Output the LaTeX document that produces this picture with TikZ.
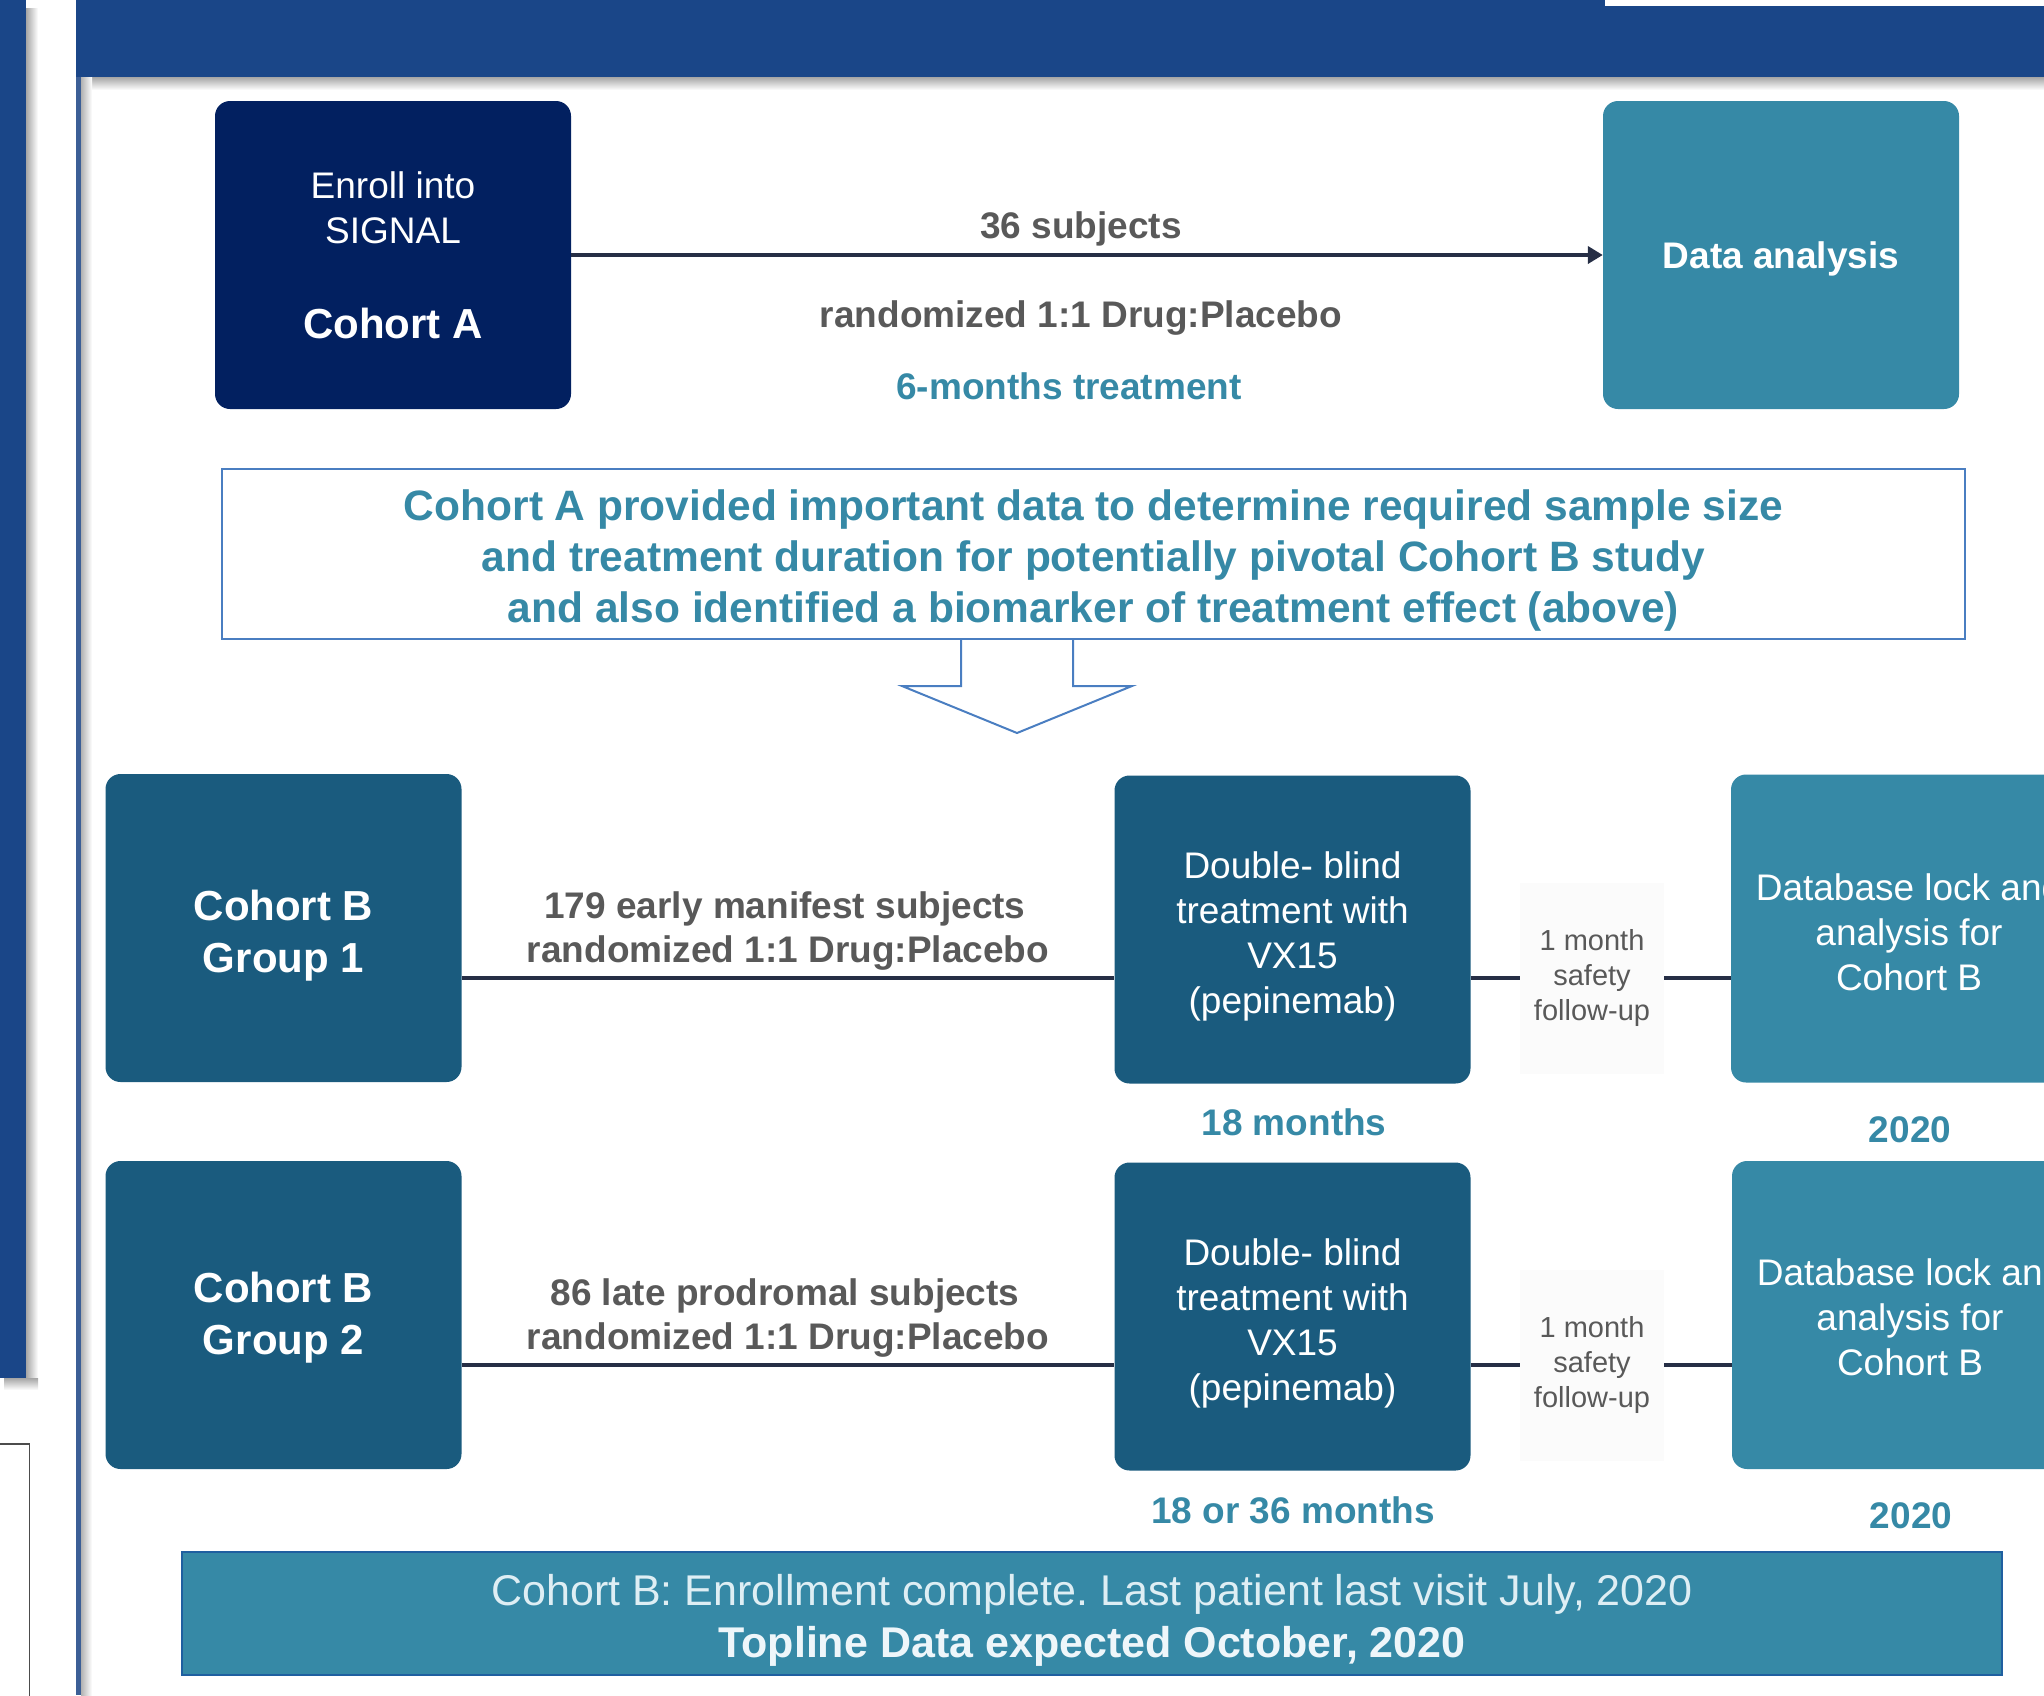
\documentclass[tikz,border=0pt]{standalone}
\usepackage{fontspec}
\setmainfont{Liberation Sans}
\usetikzlibrary{arrows.meta}
\frenchspacing
\definecolor{hdr}{RGB}{26,70,136}
\definecolor{navyc}{RGB}{2,32,96}
\definecolor{tealc}{RGB}{54,137,166}
\definecolor{dteal}{RGB}{26,91,126}
\definecolor{gtext}{RGB}{89,89,89}
\definecolor{lnc}{RGB}{38,46,69}
\definecolor{outl}{RGB}{74,126,193}
\definecolor{vlinec}{RGB}{60,95,150}
\definecolor{banborder}{RGB}{31,95,160}
\definecolor{banlight}{RGB}{222,238,244}
\definecolor{banbold}{RGB}{238,246,250}
\definecolor{fufill}{RGB}{251,251,251}
\newcommand{\upad}[1]{\rule{0pt}{#1}}
\begin{document}
\begin{tikzpicture}[x=1pt,y=-1pt,
  box/.style={rounded corners=15pt, minimum width=356pt, minimum height=308pt, inner sep=0pt, text=white, align=center, font=\fontsize{37}{45}\selectfont},
  lbl/.style={inner sep=0pt, align=center, font=\fontsize{37}{44}\selectfont\bfseries, text=gtext},
  conn/.style={draw=lnc, line width=4.5pt},
  fubox/.style={fill=fufill, minimum width=144pt, minimum height=191pt, inner sep=0pt, align=center, text=gtext, font=\fontsize{29}{35}\selectfont}]
\useasboundingbox (0,0) rectangle (2044,1695);
\clip (0,0) rectangle (2044,1695);
% page chrome
\fill[hdr] (0,0) rectangle (26,1378);
\shade[left color=black!35, right color=white] (26,8) rectangle (38,1378);
\shade[top color=black!35, bottom color=white] (4,1378) rectangle (38,1390);
\fill[hdr] (76,0) rectangle (2044,77);
\fill[white] (1605,0) rectangle (2044,6);
\shade[top color=black!35, bottom color=white] (81,77) rectangle (2044,90);
\fill[vlinec] (76,77) rectangle (81,1695);
\shade[left color=black!30, right color=white] (81,77) rectangle (92,1695);
\draw[black!70, line width=1.2pt] (-2,1444) -- (29.5,1444) -- (29.5,1700);
% Cohort A row
\node[box, fill=navyc] (cA) at (393,255) {Enroll into\\SIGNAL\\[50pt]{\fontsize{42}{50}\selectfont\bfseries Cohort A}};
\node[box, fill=tealc, font=\fontsize{37}{45}\selectfont\bfseries] (da) at (1781,255) {\upad{35pt}Data analysis};
\draw[draw=lnc, line width=4pt, -{Triangle[length=15pt,width=17pt]}] (cA.east) -- (da.west);
\node[lbl] (t36) at (1081,229) {36 subjects};
\node[lbl] (trand) at (1081,318) {randomized 1:1 Drug:Placebo};
\node[lbl, text=tealc] (t6m) at (1069,386) {6-months treatment};
% callout
\node[draw=outl, line width=1.5pt, minimum width=1743pt, minimum height=170pt, inner sep=0pt, align=center, text=tealc, font=\fontsize{42.5}{51}\selectfont\bfseries] (call) at (1093.5,554) {\upad{44pt}Cohort A provided important data to determine required sample size\\and treatment duration for potentially pivotal Cohort B study\\and also identified a biomarker of treatment effect (above)};
\draw[outl, line width=2pt, line join=miter] (961,639) -- (961,686) -- (902,686) -- (1017,733) -- (1132,686) -- (1073,686) -- (1073,639);
% Cohort B group 1
\node[box, fill=dteal, font=\fontsize{42}{52}\selectfont\bfseries] (g1) at (283.5,928) {\upad{46pt}Cohort B\\Group 1};
\node[box, fill=dteal] (db1) at (1292.5,929.5) {\upad{40pt}Double- blind\\treatment with\\VX15\\(pepinemab)};
\node[box, fill=tealc] (dbl1) at (1909,928.5) {\upad{35pt}Database lock and\\analysis for\\Cohort B};
\node[fubox] (fu1) at (1592,978) {1 month\\safety\\follow-up};
\draw[conn] (g1.east |- fu1.center) -- (db1.west |- fu1.center);
\draw[conn] (db1.east |- fu1.center) -- (fu1.west);
\draw[conn] (fu1.east) -- (dbl1.west |- fu1.center);
\node[lbl] (t179) at (785,931) {179 early manifest subjects\\\hspace*{6pt}randomized 1:1 Drug:Placebo};
\node[lbl, text=tealc] (m18) at (1294,1122) {18 months};
\node[lbl, text=tealc] (y1) at (1910,1130) {2020};
% Cohort B group 2
\node[box, fill=dteal, font=\fontsize{42}{52}\selectfont\bfseries] (g2) at (283.5,1315) {\upad{36pt}Cohort B\\Group 2};
\node[box, fill=dteal] (db2) at (1292.5,1316.5) {\upad{40pt}Double- blind\\treatment with\\VX15\\(pepinemab)};
\node[box, fill=tealc] (dbl2) at (1910,1315) {\upad{32pt}Database lock and\\analysis for\\Cohort B};
\node[fubox] (fu2) at (1592,1365) {1 month\\safety\\follow-up};
\draw[conn] (g2.east |- fu2.center) -- (db2.west |- fu2.center);
\draw[conn] (db2.east |- fu2.center) -- (fu2.west);
\draw[conn] (fu2.east) -- (dbl2.west |- fu2.center);
\node[lbl] (t86) at (785,1318) {86 late prodromal subjects\\\hspace*{6pt}randomized 1:1 Drug:Placebo};
\node[lbl, text=tealc] (m36) at (1293,1510) {18 or 36 months};
\node[lbl, text=tealc] (y2) at (1911,1516) {2020};
% banner
\node[fill=tealc, draw=banborder, line width=2pt, minimum width=1820pt, minimum height=123pt, inner sep=0pt, align=center, font=\fontsize{43}{52}\selectfont] (ban) at (1092,1613.5) {{\upad{44pt}\color{banlight}Cohort B: Enrollment complete. Last patient last visit July, 2020}\\{\color{banbold}\bfseries Topline Data expected October, 2020}};
\end{tikzpicture}
\end{document}
